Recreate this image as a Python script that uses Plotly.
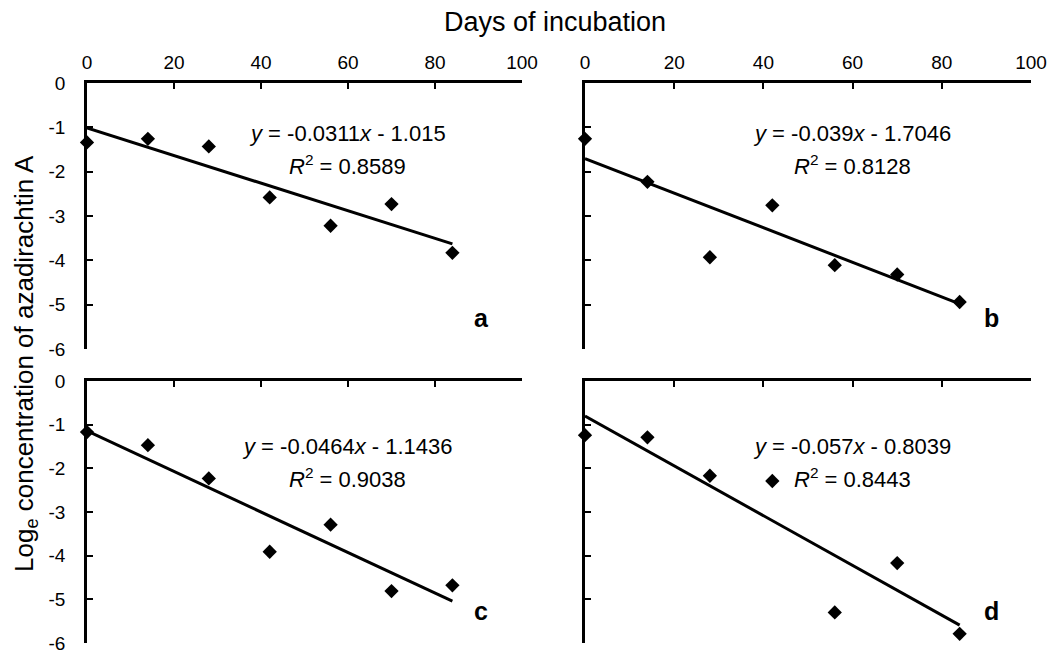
import plotly.graph_objects as go

days = [0, 14, 28, 42, 56, 70, 84]
panel_labels = ["a", "b", "c", "d"]
y_a = [-1.34, -1.26, -1.43, -2.58, -3.22, -2.73, -3.83]
y_b = [-1.26, -2.23, -3.93, -2.76, -4.11, -4.32, -4.94]
y_c = [-1.17, -1.47, -2.23, -3.91, -3.29, -4.81, -4.68]
y_d = [-1.24, -1.29, -2.17, -2.29, -5.30, -4.17, -5.79]
series = [y_a, y_b, y_c, y_d]
slopes = [-0.0311, -0.039, -0.0464, -0.057]
intercepts = [-1.015, -1.7046, -1.1436, -0.8039]
slope_txt = ["-0.0311", "-0.039", "-0.0464", "-0.057"]
icpt_txt = ["1.015", "1.7046", "1.1436", "0.8039"]
r2_txt = ["0.8589", "0.8128", "0.9038", "0.8443"]
x_ticks = [0, 20, 40, 60, 80, 100]
x_ticktext = ["0", "20", "40", "60", "80", "100"]
y_ticks = [0, -1, -2, -3, -4, -5, -6]
y_ticktext = ["0", "-1", "-2", "-3", "-4", "-5", "-6"]

W, H = 1062, 654
OFF = 8  # page body margin
FONT = "Liberation Sans, Arial, sans-serif"

def px_x(p):
    return (p - OFF) / W

def px_y(p):
    return 1 - (p - OFF) / H

xdoms = [(px_x(87), px_x(522)), (px_x(585), px_x(1031))]
ydoms = [(px_y(349), px_y(83)), (px_y(643), px_y(381))]

fig = go.Figure()
layout = {}
annotations = []

def ann(x, y, text, size, angle=0):
    return dict(x=px_x(x), y=px_y(y), xref="paper", yref="paper", text=text,
                xanchor="center", yanchor="middle", textangle=angle,
                showarrow=False, font=dict(family=FONT, size=size, color="black"))

for i in range(4):
    r, c = divmod(i, 2)
    n = i + 1
    xa = "x" if n == 1 else f"x{n}"
    ya = "y" if n == 1 else f"y{n}"
    xkey = "xaxis" if n == 1 else f"xaxis{n}"
    ykey = "yaxis" if n == 1 else f"yaxis{n}"
    fig.add_trace(go.Scatter(x=days, y=series[i], mode="markers",
                             marker=dict(symbol="diamond", size=11, color="black"),
                             xaxis=xa, yaxis=ya, cliponaxis=False, showlegend=False))
    xl = [days[0], days[-1]]
    yl = [slopes[i] * v + intercepts[i] for v in xl]
    fig.add_trace(go.Scatter(x=xl, y=yl, mode="lines",
                             line=dict(color="black", width=3),
                             xaxis=xa, yaxis=ya, cliponaxis=False, showlegend=False))
    layout[xkey] = dict(domain=xdoms[c], range=[0, 100], side="top", anchor=ya,
                        automargin=False,
                        showline=True, linecolor="black", linewidth=2.5,
                        ticks="inside", ticklen=6, tickwidth=2, tickcolor="black",
                        tickvals=x_ticks, ticktext=x_ticktext, showticklabels=(r == 0),
                        ticklabelstandoff=4,
                        showgrid=False, zeroline=False,
                        tickfont=dict(family=FONT, size=19, color="black"))
    layout[ykey] = dict(domain=ydoms[r], range=[-6, 0], anchor=xa,
                        automargin=False,
                        showline=True, linecolor="black", linewidth=2.5,
                        ticks="inside", ticklen=6, tickwidth=2, tickcolor="black",
                        tickvals=y_ticks, ticktext=y_ticktext, showticklabels=(c == 0),
                        ticklabelstandoff=15,
                        showgrid=False, zeroline=False,
                        tickfont=dict(family=FONT, size=19, color="black"))
    cx = [347, 852][c]
    cy = [133, 446][r]
    annotations.append(ann(cx, cy, f"<i>y</i> = {slope_txt[i]}<i>x</i> - {icpt_txt[i]}", 22))
    annotations.append(ann(cx, cy + 32, f"<i>R</i><sup>2</sup> = {r2_txt[i]}", 22))
    lx = [481, 991][c]
    ly = [318, 611][r]
    annotations.append(ann(lx, ly, f"<b>{panel_labels[i]}</b>", 25))

annotations.append(ann(555, 22, "Days of incubation", 27))
annotations.append(ann(25, 364, "Log<sub>e</sub> concentration of azadirachtin A", 26, -90))

fig.update_layout(width=W, height=H, margin=dict(l=0, r=0, t=0, b=0),
                  paper_bgcolor="white", plot_bgcolor="white",
                  annotations=annotations, **layout)
fig.write_html("out.html")
